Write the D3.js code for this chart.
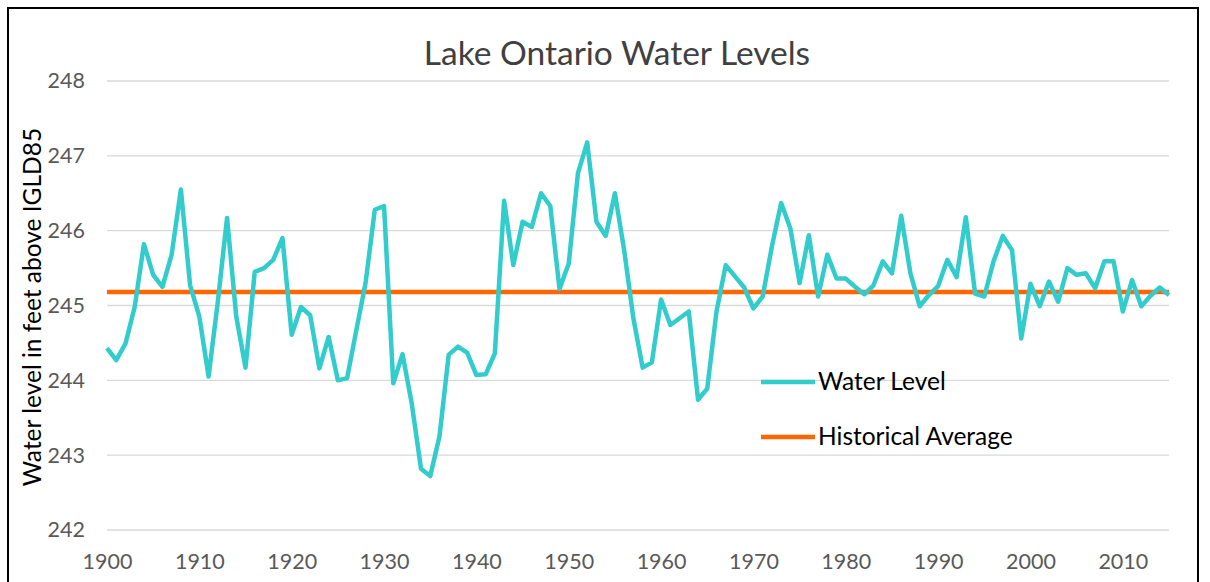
<!DOCTYPE html>
<html>
  <head>
    <script src="https://d3js.org/d3.v7.min.js" charset="utf-8"></script>
    <style type="text/css">
    body { margin: 0; background: #fff; }
    text { font-family: Lato, "Open Sans", sans-serif; }
    .tick text { fill: #595959; font-size: 21.5px; }
    </style>
  </head>
  <body>
  <script type="text/javascript">

  // years 1900 - 2015
  var years = d3.range(1900, 2016);

  // annual water level, feet above IGLD85
  var waterLevel = [
    244.43, 244.27, 244.49, 244.98, 245.82, 245.41, 245.25, 245.68, 246.55, 245.27,
    244.85, 244.05, 245.05, 246.17, 244.85, 244.17, 245.45, 245.50, 245.61, 245.90,
    244.61, 244.98, 244.87, 244.16, 244.58, 244.00, 244.03, 244.67, 245.30, 246.28,
    246.33, 243.96, 244.35, 243.69, 242.82, 242.72, 243.25, 244.34, 244.45, 244.37,
    244.07, 244.08, 244.36, 246.40, 245.54, 246.12, 246.05, 246.50, 246.33, 245.22,
    245.56, 246.77, 247.18, 246.12, 245.93, 246.50, 245.74, 244.83, 244.17, 244.24,
    245.08, 244.74, 244.83, 244.92, 243.74, 243.89, 244.92, 245.54, 245.39, 245.24,
    244.96, 245.12, 245.79, 246.37, 246.03, 245.30, 245.94, 245.12, 245.68, 245.36,
    245.36, 245.25, 245.15, 245.27, 245.59, 245.43, 246.20, 245.43, 244.99, 245.14,
    245.26, 245.61, 245.38, 246.18, 245.16, 245.12, 245.59, 245.93, 245.74, 244.56,
    245.29, 244.99, 245.32, 245.05, 245.50, 245.41, 245.43, 245.23, 245.59, 245.59,
    244.92, 245.34, 244.99, 245.13, 245.24, 245.14
  ];

  var historicalAverage = 245.18;

  var yTicks = [242, 243, 244, 245, 246, 247, 248];
  var xTicks = [1900, 1910, 1920, 1930, 1940, 1950, 1960, 1970, 1980, 1990, 2000, 2010];

  var W = 1210, H = 582;
  // plot area (note: "top" is reserved on window, so use a prefix)
  var plotLeft = 107, plotRight = 1169, plotTop = 81, plotBottom = 530;

  var svg = d3.select("body").append("svg")
    .attr("width", W)
    .attr("height", H);

  // outer frame
  svg.append("rect")
    .attr("x", 8).attr("y", 8)
    .attr("width", 1190).attr("height", 600)
    .attr("fill", "none")
    .attr("stroke", "#000")
    .attr("stroke-width", 2);

  var x = d3.scaleLinear().domain([1900, 2015]).range([plotLeft, plotRight]);
  var y = d3.scaleLinear().domain([242, 248]).range([plotBottom, plotTop]);

  // gridlines
  svg.append("g")
    .selectAll("line")
    .data(yTicks)
    .enter()
    .append("line")
    .attr("x1", plotLeft)
    .attr("x2", plotRight)
    .attr("y1", function(d) { return y(d); })
    .attr("y2", function(d) { return y(d); })
    .attr("stroke", "#d9d9d9")
    .attr("stroke-width", 1.3);

  // y axis labels
  var yAxis = svg.append("g")
    .attr("transform", "translate(" + (plotLeft - 22) + ",0)")
    .call(d3.axisLeft(y).tickValues(yTicks).tickSize(0).tickPadding(0).tickFormat(d3.format("d")));
  yAxis.select(".domain").remove();

  // x axis labels
  var xAxis = svg.append("g")
    .attr("transform", "translate(0," + (plotBottom + 20) + ")")
    .call(d3.axisBottom(x).tickValues(xTicks).tickSize(0).tickPadding(4).tickFormat(d3.format("d")));
  xAxis.select(".domain").remove();

  // historical average line
  svg.append("line")
    .attr("x1", x(1900))
    .attr("x2", x(2015))
    .attr("y1", y(historicalAverage))
    .attr("y2", y(historicalAverage))
    .attr("stroke", "#ff6600")
    .attr("stroke-width", 4.5);

  // water level line
  var line = d3.line()
    .x(function(d, i) { return x(years[i]); })
    .y(function(d) { return y(d); });

  svg.append("path")
    .datum(waterLevel)
    .attr("d", line)
    .attr("fill", "none")
    .attr("stroke", "#33cccc")
    .attr("stroke-width", 4.5)
    .attr("stroke-linejoin", "round");

  // title
  svg.append("text")
    .attr("x", 617)
    .attr("y", 65)
    .attr("text-anchor", "middle")
    .attr("fill", "#404040")
    .style("font-size", "33.5px")
    .text("Lake Ontario Water Levels");

  // y axis title
  svg.append("text")
    .attr("transform", "translate(41,307) rotate(-90)")
    .attr("text-anchor", "middle")
    .attr("fill", "#000")
    .style("font-size", "24.5px")
    .text("Water level in feet above IGLD85");

  // legend
  var legend = [
    {name: "Water Level", color: "#33cccc", y: 382},
    {name: "Historical Average", color: "#ff6600", y: 437}
  ];

  var lg = svg.append("g").selectAll("g")
    .data(legend)
    .enter()
    .append("g");

  lg.append("line")
    .attr("x1", 761)
    .attr("x2", 815)
    .attr("y1", function(d) { return d.y; })
    .attr("y2", function(d) { return d.y; })
    .attr("stroke", function(d) { return d.color; })
    .attr("stroke-width", 4.5);

  lg.append("text")
    .attr("x", 818)
    .attr("y", function(d) { return d.y + 8; })
    .attr("fill", "#000")
    .style("font-size", "24.5px")
    .text(function(d) { return d.name; });

  </script>
  </body>
</html>
